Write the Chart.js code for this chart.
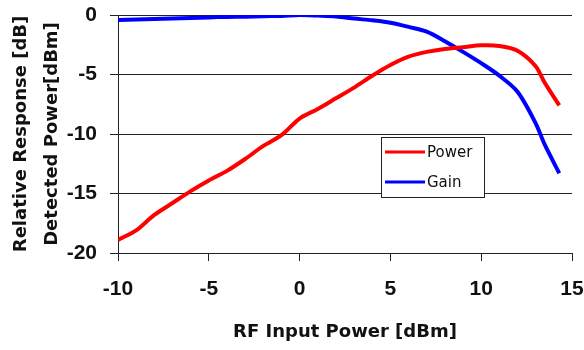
<!DOCTYPE html>
<html>
<head>
<meta charset="utf-8">
<script src="https://cdn.jsdelivr.net/npm/chart.js@4/dist/chart.umd.min.js"></script>
<style>
    html, body { margin: 0; padding: 0; background: #fff; }
    #wrap { width: 584px; height: 350px; }
</style>
</head>
<body>
<div id="wrap"><canvas id="rfChart"></canvas></div>
<script>
// RF input sweep [dBm]
const inputPower = [-10, -9, -8, -7, -6, -5, -4, -3, -2, -1, 0, 1, 2, 3, 4, 5, 6, 7, 8, 9, 10, 11, 12, 13, 13.5, 14.3];
// detected output power [dBm]
const detectedPower = [-18.9, -18.1, -16.8, -15.8, -14.8, -13.9, -13.1, -12.1, -11.0, -10.1, -8.7, -7.9, -7.0, -6.1, -5.1, -4.2, -3.5, -3.1, -2.85, -2.7, -2.55, -2.6, -3.0, -4.3, -5.7, -7.6];
// relative gain response [dB]
const relativeGain = [-0.42, -0.38, -0.33, -0.3, -0.25, -0.2, -0.16, -0.14, -0.1, -0.08, 0, -0.05, -0.12, -0.3, -0.45, -0.65, -1.0, -1.4, -2.2, -3.1, -4.05, -5.1, -6.45, -9.1, -10.9, -13.3];

const seriesNames = ['Power', 'Gain'];
const xTicks = [-10, -5, 0, 5, 10, 15];
const yTicks = [-20, -15, -10, -5, 0];

const tickFont = { family: "'Liberation Sans', Arial, sans-serif", size: 21, weight: 'bold' };
const titleFont = { family: "'DejaVu Sans', sans-serif", size: 18, weight: 'bold' };

function toPoints(ys) {
    return inputPower.map((x, i) => ({ x: x, y: ys[i] }));
}

// boxed legend sitting inside the plot area
const boxLegend = {
    id: 'boxLegend',
    afterDatasetsDraw(chart) {
        const ctx = chart.ctx;
        const area = chart.chartArea;
        const left = area.left + 263;
        const top = area.top + 122;
        const w = 103, h = 60;
        ctx.save();
        ctx.fillStyle = '#fff';
        ctx.fillRect(left, top, w, h);
        ctx.strokeStyle = '#222';
        ctx.lineWidth = 1;
        ctx.strokeRect(left + 0.5, top + 0.5, w, h);
        ctx.font = "15px 'DejaVu Sans', sans-serif";
        ctx.textBaseline = 'middle';
        chart.data.datasets.forEach((ds, i) => {
            const y = top + 15 + i * 30;
            ctx.strokeStyle = ds.borderColor;
            ctx.lineWidth = 3;
            ctx.beginPath();
            ctx.moveTo(left + 4, y);
            ctx.lineTo(left + 44, y);
            ctx.stroke();
            ctx.fillStyle = '#111';
            ctx.fillText(ds.label, left + 46, y + 1);
        });
        ctx.restore();
    }
};

new Chart(document.getElementById('rfChart'), {
    type: 'scatter',
    data: {
        datasets: [{
            label: seriesNames[0],
            data: toPoints(detectedPower),
            borderColor: '#ff0000',
            backgroundColor: '#ff0000',
            borderWidth: 4,
            showLine: true,
            pointRadius: 0,
            tension: 0.3
        }, {
            label: seriesNames[1],
            data: toPoints(relativeGain),
            borderColor: '#0000ff',
            backgroundColor: '#0000ff',
            borderWidth: 4,
            showLine: true,
            pointRadius: 0,
            tension: 0.3
        }]
    },
    options: {
        responsive: true,
        maintainAspectRatio: false,
        animation: false,
        layout: { padding: { top: 15, right: 12, left: 0, bottom: 0 } },
        plugins: {
            legend: { display: false },
            tooltip: { enabled: false }
        },
        scales: {
            x: {
                type: 'linear',
                min: -10,
                max: 15,
                afterFit: (scale) => {
                    scale.height = 97;
                    // tick labels may hang past the plot edges
                    scale.paddingLeft = 0;
                    scale.paddingRight = 0;
                },
                afterBuildTicks: (scale) => { scale.ticks = xTicks.map(v => ({ value: v })); },
                ticks: { color: '#111', padding: 16, font: tickFont },
                grid: { drawOnChartArea: false, tickLength: 8, color: '#222' },
                border: { color: '#222' },
                title: {
                    display: true,
                    text: 'RF Input Power [dBm]',
                    color: '#111',
                    padding: { top: 0, bottom: 7 },
                    font: titleFont
                }
            },
            y: {
                min: -20,
                max: 0,
                afterFit: (scale) => {
                    scale.width = 118;
                    scale.paddingTop = 0;
                    scale.paddingBottom = 0;
                },
                afterBuildTicks: (scale) => { scale.ticks = yTicks.map(v => ({ value: v })); },
                ticks: { color: '#111', padding: 13, font: tickFont },
                grid: { tickLength: 8, color: '#222' },
                border: { color: '#222' },
                title: {
                    display: true,
                    text: ['Relative Response [dB]', 'Detected Power[dBm]'],
                    color: '#111',
                    padding: { top: 6, bottom: 0 },
                    font: Object.assign({}, titleFont, { lineHeight: 1.72 })
                }
            }
        }
    },
    plugins: [boxLegend]
});
</script>
</body>
</html>
